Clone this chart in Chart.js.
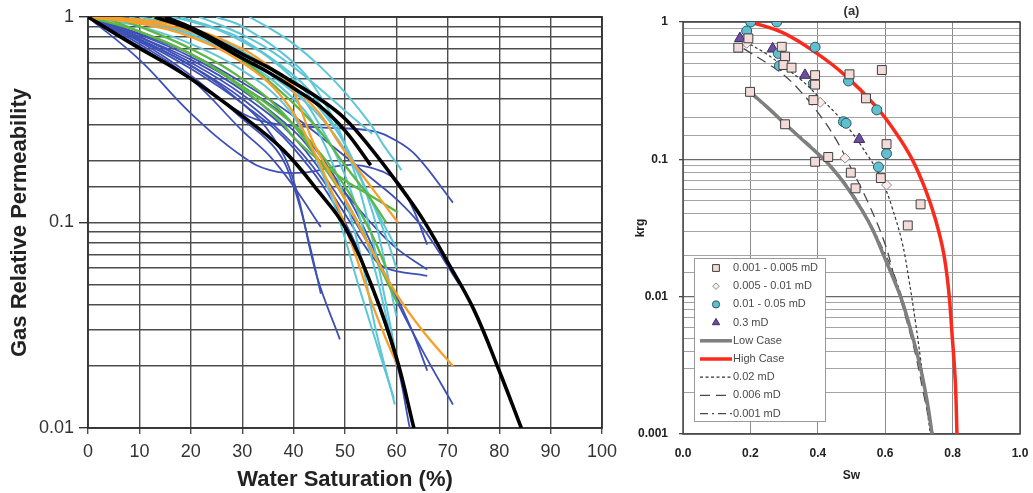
<!doctype html>
<html lang="en">
<head>
<meta charset="utf-8">
<title>Gas relative permeability</title>
<script src="https://cdn.jsdelivr.net/npm/chart.js@4.4.1/dist/chart.umd.min.js"></script>
<style>
  body { margin: 0; background: #fff; }
  #wrap { position: relative; width: 1033px; height: 493px; }
  #left { position: absolute; left: 0; top: 0; }
  #right { position: absolute; left: 630px; top: 0; }
</style>
</head>
<body>
<div id="wrap">
  <canvas id="left" width="625" height="493"></canvas>
  <canvas id="right" width="403" height="493"></canvas>
</div>
<script>
// ---- left panel: [Sw %, krg] per curve ----
const black1 = [[0,1],[9,0.73],[19,0.52],[30,0.33],[38,0.225],[45,0.14],[50,0.095],[55.5,0.047],[60,0.022],[63.4,0.01]];
const black2 = [[15,1],[20,0.89],[25,0.77],[30,0.66],[35,0.57],[40,0.48],[45,0.4],[50,0.32],[55,0.23],[60,0.158],[65,0.105],[70,0.064],[75,0.038],[80,0.019],[84.3,0.01]];
const black3 = [[13,1],[20,0.87],[30,0.63],[35,0.54],[40,0.45],[45,0.37],[50,0.28],[55,0.19]];

const cyan1 = [[31.4,1],[35.4,0.88],[40,0.74],[45,0.58],[50,0.43],[55,0.3],[57.4,0.24],[61,0.18]];
const cyan2 = [[21.7,1],[25,0.93],[30,0.82],[35,0.7],[40,0.57],[45,0.45],[50,0.35],[55.3,0.27]];
const cyan3 = [[16.3,1],[20,0.95],[25,0.87],[30,0.76],[35,0.64],[40,0.5],[45,0.36],[50,0.24],[55,0.12],[58,0.06],[60,0.035]];
const cyan4 = [[5,1],[10,0.95],[20,0.82],[30,0.62],[40,0.4],[45,0.27],[50,0.13],[53,0.07],[56,0.03],[59.7,0.013]];
const cyan5 = [[10,1],[20,0.88],[30,0.68],[40,0.45],[45,0.3],[50,0.17],[55,0.07],[58,0.035],[60,0.02]];
const cyan6 = [[0,1],[10,0.9],[20,0.74],[30,0.55],[38,0.38],[43,0.24],[48,0.12],[52.9,0.047],[57,0.022],[59.5,0.014]];
const cyan7 = [[18,1],[25,0.88],[30,0.78],[40,0.52],[45,0.38],[50,0.24],[55,0.13],[60,0.075]];
const cyan8 = [[8,1],[20,0.84],[30,0.64],[40,0.43],[45,0.33],[50,0.225],[55,0.13],[58,0.085],[60,0.06]];
const cyan9 = [[25,1],[30,0.9],[40,0.6],[45,0.42],[50,0.24],[55,0.09],[58,0.04],[60,0.022]];

const green1 = [[3,1],[10,0.85],[20,0.66],[30,0.45],[38,0.3],[40,0.26],[45,0.2],[50,0.16],[55,0.135],[60.3,0.112]];
const green2 = [[5,1],[10,0.9],[20,0.7],[30,0.5],[38,0.34],[45,0.2],[50,0.13],[55,0.075],[60.3,0.04]];
const green3 = [[12.5,1],[20,0.87],[30,0.62],[40,0.38],[45,0.28],[50,0.19],[55,0.13],[58,0.1]];
const green4 = [[0,1],[10,0.85],[20,0.66],[30,0.46],[40,0.3],[45,0.22],[50,0.15],[55,0.09],[58,0.06]];

const orange1 = [[0,1],[10,0.97],[20,0.88],[30,0.7],[35,0.58],[40,0.46],[45,0.34],[49,0.24],[55,0.15],[60.3,0.1]];
const orange2 = [[0,1],[10,0.95],[20,0.85],[30,0.66],[36,0.55],[39,0.48],[41,0.38],[44,0.24],[50,0.13],[55,0.075],[60,0.045],[65,0.03],[71,0.02]];
const orange3 = [[0,1],[10,0.93],[20,0.8],[30,0.6],[38,0.4],[43.8,0.225],[48,0.13],[52,0.07],[55,0.042],[58,0.027],[60.3,0.02]];

const blue1 = [[0,1],[10,0.62],[20,0.34],[30,0.21],[35.4,0.18],[42,0.175],[50,0.19],[55,0.185],[60,0.16],[63,0.12],[66,0.078]];
const blue2 = [[0,1],[10,0.72],[20,0.5],[30,0.34],[35.4,0.305],[45,0.29],[55,0.28],[60,0.25],[64,0.21],[71,0.125]];
const blue3 = [[0,1],[10,0.74],[20,0.5],[30,0.28],[35.4,0.21],[40,0.15],[45.3,0.095]];
const blue4 = [[0,1],[10,0.76],[20,0.52],[30,0.32],[36.7,0.225],[40,0.15],[43,0.08],[45.3,0.045]];
const blue5 = [[0,1],[10,0.78],[20,0.58],[30,0.38],[36,0.26],[40,0.16],[44.5,0.055],[49,0.027]];
const blue6 = [[0,1],[10,0.83],[20,0.66],[30,0.48],[40,0.33],[50,0.21],[55,0.165],[60,0.13],[65,0.095],[72.2,0.05]];
const blue7 = [[0,1],[10,0.8],[20,0.62],[30,0.44],[40,0.28],[45,0.2],[50,0.14],[55,0.1],[60,0.075],[66,0.059]];
const blue8 = [[0,1],[10,0.78],[20,0.58],[30,0.4],[40,0.24],[45,0.17],[50,0.11],[55,0.07],[58,0.06],[66,0.055]];
const blue9 = [[0,1],[10,0.82],[20,0.64],[30,0.46],[40,0.3],[50,0.14],[55,0.08],[59,0.047],[65,0.024],[71,0.013]];
const blue10 = [[0,1],[10,0.8],[20,0.6],[30,0.42],[40,0.26],[50,0.12],[55,0.075],[59.4,0.047],[63,0.03],[66,0.019]];
const blue11 = [[0,1],[10,0.77],[20,0.56],[30,0.38],[40,0.23],[50,0.1],[55,0.05],[60,0.021],[62.6,0.01]];

const blackCurves = [black1, black2, black3];
const cyanCurves = [cyan1, cyan2, cyan3, cyan4, cyan5, cyan6, cyan7, cyan8, cyan9];
const greenCurves = [green1, green2, green3, green4];
const orangeCurves = [orange1, orange2, orange3];
const blueCurves = [blue1, blue2, blue3, blue4, blue5, blue6, blue7, blue8, blue9, blue10, blue11];

// ---- right panel ----
const squareSw  = [0.164,0.194,0.293,0.303,0.298,0.322,0.392,0.392,0.387,0.494,0.59,0.543,0.199,0.303,0.431,0.392,0.498,0.512,0.587,0.604,0.705,0.667];
const squareKrg = [0.65,0.76,0.66,0.56,0.486,0.465,0.41,0.35,0.27,0.416,0.447,0.278,0.31,0.18,0.104,0.096,0.08,0.0615,0.073,0.129,0.047,0.033];
const diamondSw  = [0.189,0.407,0.481,0.604];
const diamondKrg = [0.70,0.26,0.102,0.065];
const circleSw  = [0.201,0.278,0.189,0.283,0.392,0.387,0.286,0.491,0.575,0.476,0.484,0.604,0.58];
const circleKrg = [1.0,1.0,0.86,0.59,0.655,0.357,0.48,0.372,0.229,0.188,0.183,0.11,0.088];
const triangleSw  = [0.169,0.266,0.362,0.523];
const triangleKrg = [0.76,0.64,0.41,0.14];

const lowSw  = [0.199,0.25,0.3,0.35,0.4,0.426,0.48,0.53,0.565,0.596,0.645,0.675,0.704,0.725,0.739];
const lowKrg = [0.31,0.24,0.184,0.142,0.11,0.096,0.066,0.043,0.03,0.0198,0.0101,0.0058,0.0031,0.0017,0.001];
const highSw  = [0.202,0.296,0.394,0.483,0.571,0.631,0.68,0.719,0.749,0.773,0.788,0.798,0.808,0.813];
const highKrg = [1,0.836,0.598,0.405,0.245,0.157,0.1,0.0606,0.0366,0.021,0.0113,0.0055,0.0024,0.001];
const md002Sw  = [0.185,0.25,0.3,0.35,0.4,0.45,0.5,0.55,0.58,0.6,0.62,0.65,0.67,0.69,0.705,0.72,0.734];
const md002Krg = [0.72,0.58,0.47,0.38,0.29,0.22,0.158,0.105,0.08,0.062,0.045,0.025,0.0135,0.0065,0.0035,0.0018,0.001];
const md0006Sw  = [0.18,0.25,0.3,0.35,0.4,0.45,0.5,0.55,0.6,0.63,0.66,0.69,0.715,0.739];
const md0006Krg = [0.64,0.5,0.41,0.31,0.22,0.145,0.085,0.048,0.024,0.013,0.0072,0.0038,0.0019,0.001];
const md0001Sw  = [0.2,0.3,0.4,0.5,0.6,0.65,0.7,0.742];
const md0001Krg = [0.3,0.185,0.112,0.058,0.0205,0.0098,0.0034,0.001];

Chart.defaults.font.family = '"Liberation Sans", Arial, sans-serif';

const isDecade = v => Math.abs(Math.log10(v) - Math.round(Math.log10(v))) < 1e-6;
const decadeLabel = v => isDecade(v) ? String(Number(v.toPrecision(1))) : '';
const pairs = (xs, ys) => xs.map((x, i) => ({ x: x, y: ys[i] }));

const framePlugin = {
  id: 'frame',
  beforeDatasetsDraw(chart, args, opts) {
    const a = chart.chartArea, ctx = chart.ctx;
    ctx.save();
    ctx.strokeStyle = opts.color;
    ctx.lineWidth = opts.width;
    ctx.strokeRect(a.left, a.top, a.right - a.left, a.bottom - a.top);
    ctx.restore();
  }
};

// left chart
const leftSets = [];
const addGroup = (curves, color, width, order) => {
  curves.forEach(c => leftSets.push({
    data: c.map(p => ({ x: p[0], y: p[1] })),
    borderColor: color,
    borderWidth: width,
    pointRadius: 0,
    tension: 0.4,
    order: order
  }));
};
addGroup(blueCurves, '#3e50b6', 1.8, 4);
addGroup(cyanCurves, '#5dc6d8', 2, 3);
addGroup(greenCurves, '#5bb746', 2.3, 2);
addGroup(orangeCurves, '#f6a02b', 2.3, 1);
addGroup(blackCurves, '#000000', 3.6, 0);

new Chart(document.getElementById('left'), {
  type: 'line',
  data: { datasets: leftSets },
  options: {
    responsive: false,
    animation: false,
    layout: { padding: { top: 17, right: 23, left: 0, bottom: 0 } },
    plugins: {
      legend: { display: false },
      tooltip: { enabled: false },
      frame: { color: '#333', width: 1.8 }
    },
    scales: {
      x: {
        type: 'linear', min: 0, max: 100,
        ticks: { stepSize: 10, color: '#333', font: { size: 18 }, padding: 7 },
        grid: { color: '#4d4d4d', lineWidth: 1.4, tickLength: 6 },
        border: { display: false },
        title: { display: true, text: 'Water Saturation (%)', color: '#222',
                 font: { size: 22, weight: 'bold' }, padding: { top: 0, bottom: 0 } },
        afterFit: s => { s.height = 65; }
      },
      y: {
        type: 'logarithmic', min: 0.01, max: 1,
        ticks: { autoSkip: false, color: '#333', font: { size: 18 }, padding: 5, callback: decadeLabel },
        grid: {
          color: '#4d4d4d', lineWidth: 1.4, tickLength: 9,
          tickColor: c => (c.tick && isDecade(c.tick.value)) ? '#333' : 'rgba(0,0,0,0)'
        },
        border: { display: false },
        title: { display: true, text: 'Gas Relative Permeability', color: '#222',
                 font: { size: 22, weight: 'bold' }, padding: { top: 7, bottom: 0 } },
        afterFit: s => { s.width = 88; }
      }
    }
  },
  plugins: [framePlugin]
});

// right chart
function drawMarker(ctx, style, x, y, r, fill, stroke) {
  ctx.save();
  ctx.fillStyle = fill;
  ctx.strokeStyle = stroke;
  ctx.lineWidth = 1;
  ctx.beginPath();
  if (style === 'rect') {
    ctx.rect(x - r, y - r, 2 * r, 2 * r);
  } else if (style === 'rectRot') {
    ctx.moveTo(x, y - r); ctx.lineTo(x + r, y); ctx.lineTo(x, y + r); ctx.lineTo(x - r, y); ctx.closePath();
  } else if (style === 'triangle') {
    ctx.moveTo(x, y - r); ctx.lineTo(x + r * 0.87, y + r * 0.5); ctx.lineTo(x - r * 0.87, y + r * 0.5); ctx.closePath();
  } else {
    ctx.arc(x, y, r, 0, Math.PI * 2);
  }
  ctx.fill();
  ctx.stroke();
  ctx.restore();
}

const boxLegend = {
  id: 'boxLegend',
  afterDraw(chart) {
    const ctx = chart.ctx;
    ctx.save();
    ctx.fillStyle = '#fff';
    ctx.strokeStyle = '#9a9a9a';
    ctx.lineWidth = 1;
    ctx.fillRect(64.5, 258.5, 131, 163);
    ctx.strokeRect(64.5, 258.5, 131, 163);
    ctx.font = '11px "Liberation Sans", Arial, sans-serif';
    ctx.textBaseline = 'middle';
    const sizes = { rect: 3.4, rectRot: 3.3, circle: 3.6, triangle: 4.2 };
    chart.data.datasets.forEach((ds, i) => {
      const y = 268 + i * 18.2;
      if (ds.showLine) {
        ctx.save();
        ctx.strokeStyle = ds.borderColor;
        ctx.lineWidth = ds.borderWidth;
        ctx.setLineDash(ds.borderDash || []);
        ctx.beginPath();
        ctx.moveTo(70, y);
        ctx.lineTo(102, y);
        ctx.stroke();
        ctx.restore();
      } else {
        drawMarker(ctx, ds.pointStyle, 86, y, sizes[ds.pointStyle], ds.backgroundColor, ds.borderColor);
      }
      ctx.fillStyle = '#4a4a4a';
      ctx.fillText(ds.label, 103, y);
    });
    ctx.restore();
  }
};

const markerSet = (label, xs, ys, style, r, fill, stroke) => ({
  label: label, data: pairs(xs, ys), pointStyle: style, pointRadius: r,
  backgroundColor: fill, borderColor: stroke, borderWidth: 1, showLine: false, order: 0
});
const lineSet = (label, xs, ys, color, width, dash) => ({
  label: label, data: pairs(xs, ys), borderColor: color, borderWidth: width, borderDash: dash,
  pointRadius: 0, showLine: true, tension: 0.4, order: 1
});

new Chart(document.getElementById('right'), {
  type: 'scatter',
  data: {
    datasets: [
      markerSet('0.001 - 0.005 mD', squareSw, squareKrg, 'rect', 6.3, '#f3dbd9', '#3d3d3d'),
      markerSet('0.005 - 0.01 mD', diamondSw, diamondKrg, 'rectRot', 5, '#fcecea', '#8c8c8c'),
      markerSet('0.01 - 0.05 mD', circleSw, circleKrg, 'circle', 5, '#62bfcf', '#2c5761'),
      markerSet('0.3 mD', triangleSw, triangleKrg, 'triangle', 6.3, '#6b4f9e', '#3b2b66'),
      lineSet('Low Case', lowSw, lowKrg, '#7f7f7f', 3.5, []),
      lineSet('High Case', highSw, highKrg, '#fa2b1d', 3.5, []),
      lineSet('0.02 mD', md002Sw, md002Krg, '#333333', 1.2, [3, 2.5]),
      lineSet('0.006 mD', md0006Sw, md0006Krg, '#4a4a4a', 1.3, [10, 6]),
      lineSet('0.001 mD', md0001Sw, md0001Krg, '#4a4a4a', 1.2, [8, 4, 2, 4])
    ]
  },
  options: {
    responsive: false,
    animation: false,
    layout: { padding: { top: 0, right: 13, left: 0, bottom: 0 } },
    plugins: {
      legend: { display: false },
      tooltip: { enabled: false },
      frame: { color: '#444', width: 1.5 },
      title: { display: true, text: '(a)', fullSize: false, color: '#333',
               font: { size: 13, weight: 'bold' }, padding: { top: 4, bottom: 2.4 } }
    },
    scales: {
      x: {
        type: 'linear', min: 0, max: 1,
        ticks: { stepSize: 0.2, color: '#222', font: { size: 12, weight: 'bold' }, padding: 1,
                 callback: v => v.toFixed(1) },
        grid: { color: '#8c8c8c', lineWidth: 1, tickLength: 11, tickColor: 'rgba(0,0,0,0)' },
        border: { display: false },
        title: { display: true, text: 'Sw', color: '#222', font: { size: 12, weight: 'bold' },
                 padding: { top: 0, bottom: 10 } },
        afterFit: s => { s.height = 59; }
      },
      y: {
        type: 'logarithmic', min: 0.001, max: 1,
        ticks: { autoSkip: false, color: '#222', font: { size: 12, weight: 'bold' }, padding: 11,
                 callback: decadeLabel },
        grid: {
          color: c => (c.tick && isDecade(c.tick.value)) ? '#6a6a6a' : '#a3a3a3',
          lineWidth: c => (c.tick && isDecade(c.tick.value)) ? 1.3 : 1,
          tickLength: 4,
          tickColor: c => (c.tick && isDecade(c.tick.value)) ? '#444' : 'rgba(0,0,0,0)'
        },
        border: { display: false },
        title: { display: true, text: 'krg', color: '#222', font: { size: 12, weight: 'bold' },
                 padding: { top: 3, bottom: 0 } },
        afterFit: s => { s.width = 53; }
      }
    }
  },
  plugins: [framePlugin, boxLegend]
});
</script>
</body>
</html>
